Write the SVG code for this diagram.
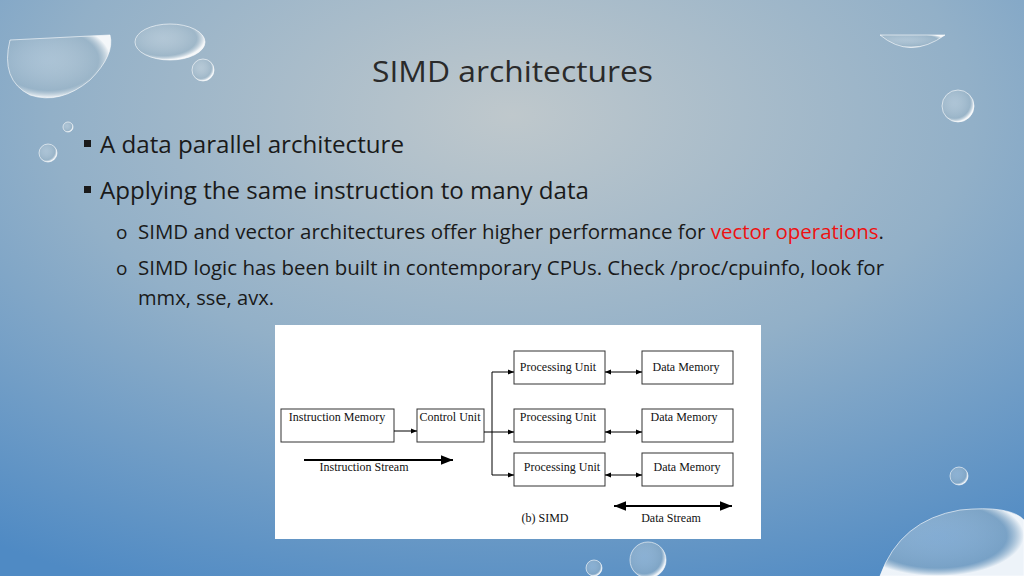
<svg xmlns="http://www.w3.org/2000/svg" width="1024" height="576" viewBox="0 0 1024 576">
<defs>
<radialGradient id="bg" cx="0.5" cy="0.2" r="0.9">
<stop offset="0" stop-color="#bfc8cc"/><stop offset="0.5" stop-color="#92b0c8"/><stop offset="1" stop-color="#4f8ac4"/>
</radialGradient>
<radialGradient id="bub" cx="0.4" cy="0.4" r="0.6">
<stop offset="0" stop-color="#e8f0f4" stop-opacity="0.3"/><stop offset="0.8" stop-color="#a0b8c8" stop-opacity="0.5"/><stop offset="1" stop-color="#ffffff" stop-opacity="0.9"/>
</radialGradient>
<marker id="ah" viewBox="0 0 10 10" refX="10" refY="5" markerWidth="6" markerHeight="6" orient="auto-start-reverse"><path d="M0,1 L10,5 L0,9 z" fill="#000"/></marker>
<style>
.t{font-family:"Open Sans","Liberation Sans",sans-serif;fill:#1a1a1a}
.d{font-family:"Liberation Serif",serif;font-size:12px;fill:#111}
.b{fill:#fff;stroke:#333;stroke-width:1}
.l{stroke:#000;stroke-width:1;fill:none}
.bb{fill:url(#bub);stroke:#fff;stroke-opacity:0.6}
</style>
</defs>
<rect width="1024" height="576" fill="url(#bg)"/>
<g>
<path d="M10,40 Q0,80 30,95 Q60,105 90,80 Q115,55 110,35 Z" class="bb"/>
<ellipse cx="170" cy="42" rx="35" ry="18" class="bb"/>
<circle cx="203" cy="70" r="11" class="bb"/>
<circle cx="48" cy="153" r="9" class="bb"/>
<circle cx="68" cy="127" r="5" class="bb"/>
<path d="M880,35 Q910,60 945,35 Z" class="bb"/>
<circle cx="958" cy="106" r="16" class="bb"/>
<circle cx="959" cy="476" r="9" class="bb"/>
<path d="M880,576 Q900,520 960,510 Q1010,505 1024,520 L1024,576 Z" class="bb"/>
<circle cx="648" cy="560" r="18" class="bb"/>
<circle cx="594" cy="568" r="8" class="bb"/>
</g>
<text x="372" y="82" class="t" style="font-size:30px;fill:#2a2a2a" textLength="281" lengthAdjust="spacingAndGlyphs">SIMD architectures</text>
<rect x="84" y="140" width="7" height="7" fill="#1a1a1a"/>
<text x="100" y="153" class="t" style="font-size:23px" textLength="304" lengthAdjust="spacingAndGlyphs">A data parallel architecture</text>
<rect x="84" y="186" width="7" height="7" fill="#1a1a1a"/>
<text x="100" y="199" class="t" style="font-size:23px" textLength="489" lengthAdjust="spacingAndGlyphs">Applying the same instruction to many data</text>
<text x="116" y="239" class="t" style="font-size:19px">o</text>
<text x="138" y="239" class="t" style="font-size:20px" textLength="746" lengthAdjust="spacingAndGlyphs">SIMD and vector architectures offer higher performance for <tspan fill="#ee1111">vector operations</tspan>.</text>
<text x="116" y="275" class="t" style="font-size:19px">o</text>
<text x="138" y="275" class="t" style="font-size:20px" textLength="746" lengthAdjust="spacingAndGlyphs">SIMD logic has been built in contemporary CPUs. Check /proc/cpuinfo, look for</text>
<text x="138" y="305" class="t" style="font-size:20px" textLength="136" lengthAdjust="spacingAndGlyphs">mmx, sse, avx.</text>
<rect x="275" y="325" width="486" height="214" fill="#fff"/>
<g id="im"><rect class="b" x="281" y="409" width="113" height="33"/><text class="d" x="337" y="421" text-anchor="middle">Instruction Memory</text></g>
<g id="cu"><rect class="b" x="417" y="409" width="67" height="33"/><text class="d" x="450" y="421" text-anchor="middle">Control Unit</text></g>
<g id="pu1"><rect class="b" x="514" y="351" width="91" height="33"/><text class="d" x="558" y="371" text-anchor="middle">Processing Unit</text></g>
<g id="pu2"><rect class="b" x="514" y="409" width="91" height="33"/><text class="d" x="558" y="421" text-anchor="middle">Processing Unit</text></g>
<g id="pu3"><rect class="b" x="514" y="453" width="91" height="33"/><text class="d" x="562" y="471" text-anchor="middle">Processing Unit</text></g>
<g id="dm1"><rect class="b" x="642" y="351" width="91" height="33"/><text class="d" x="686" y="371" text-anchor="middle">Data Memory</text></g>
<g id="dm2"><rect class="b" x="642" y="409" width="91" height="33"/><text class="d" x="684" y="421" text-anchor="middle">Data Memory</text></g>
<g id="dm3"><rect class="b" x="642" y="453" width="91" height="33"/><text class="d" x="687" y="471" text-anchor="middle">Data Memory</text></g>
<g id="labels">
<text class="d" x="364" y="471" text-anchor="middle">Instruction Stream</text>
<text class="d" x="545" y="522" text-anchor="middle">(b) SIMD</text>
<text class="d" x="671" y="522" text-anchor="middle">Data Stream</text>
</g>
<g id="connectors">
<line class="l" x1="394" y1="431" x2="417" y2="431" marker-end="url(#ah)"/>
<line class="l" x1="484" y1="432" x2="514" y2="432" marker-end="url(#ah)"/>
<polyline class="l" points="492,432 492,372 514,372" marker-end="url(#ah)"/>
<polyline class="l" points="492,432 492,475 514,475" marker-end="url(#ah)"/>
<line class="l" x1="605" y1="372" x2="642" y2="372" marker-start="url(#ah)" marker-end="url(#ah)"/>
<line class="l" x1="605" y1="432" x2="642" y2="432" marker-start="url(#ah)" marker-end="url(#ah)"/>
<line class="l" x1="605" y1="475" x2="642" y2="475" marker-start="url(#ah)" marker-end="url(#ah)"/>
<line x1="304" y1="460" x2="453" y2="460" stroke="#000" stroke-width="2" marker-end="url(#ah)"/>
<line x1="614" y1="506" x2="732" y2="506" stroke="#000" stroke-width="2" marker-start="url(#ah)" marker-end="url(#ah)"/>
</g>
</svg>
